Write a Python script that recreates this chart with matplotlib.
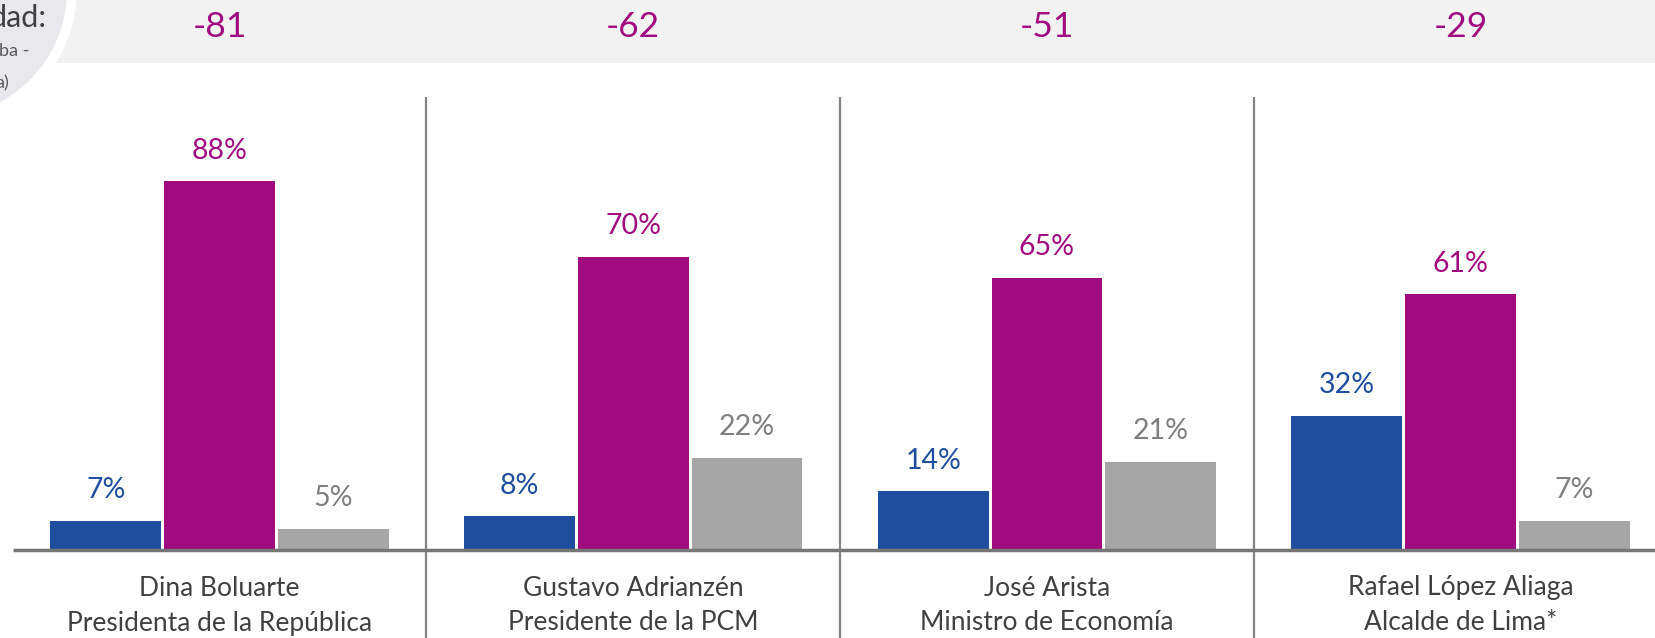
import numpy as np
import matplotlib.pyplot as plt
from matplotlib.patches import Rectangle, Circle
from matplotlib.transforms import blended_transform_factory

plt.rcParams['font.family'] = ['Lato', 'DejaVu Sans']

# Data
personas = ["Dina Boluarte", "Gustavo Adrianzén", "José Arista", "Rafael López Aliaga"]
cargos = ["Presidenta de la República", "Presidente de la PCM", "Ministro de Economía", "Alcalde de Lima*"]
aprueba = [7, 8, 14, 32]
desaprueba = [88, 70, 65, 61]
no_precisa = [5, 22, 21, 7]
saldo = ["-81", "-62", "-51", "-29"]

c_blue = "#1f4e9e"
c_mag = "#a00b7f"
c_gray = "#a6a6a6"

W, H = 1655, 638
fig = plt.figure(figsize=(W / 100, H / 100), dpi=100)

# pixel helpers (full-size picture coordinates)
base_px = 550
px_per_pct = 4.19
left_px = 12.7
group_px = 413.7
x_right = (W - left_px) / group_px - 0.5

ax = fig.add_axes([left_px / W, 0, 1 - left_px / W, (H - 97) / H])
ax.set_xlim(-0.5, x_right)
ax.set_ylim(-(H - base_px) / px_per_pct, (base_px - 97) / px_per_pct)
ax.axis("off")

x = np.arange(len(personas))
bw = 0.268
off = 0.275
series = [(aprueba, c_blue, c_blue, -off), (desaprueba, c_mag, c_mag, 0),
          (no_precisa, c_gray, "#7f7f7f", off)]
for vals, col, tcol, dx in series:
    ax.bar(x + dx, vals, width=bw, color=col, zorder=2)
    for xi, v in zip(x, vals):
        ax.annotate(f"{v}%", (xi + dx, v), xytext=(0, 22), textcoords="offset points",
                    ha="center", va="center", fontsize=20.5, color=tcol)

# baseline and separators
ax.plot([-0.5, x_right], [0, 0], color="#767676", lw=2.5, zorder=3, solid_capstyle="butt")
ax.vlines(x[:-1] + 0.5, -30, 200, color="#858585", lw=1.6, zorder=1)

for xi, p, c in zip(x, personas, cargos):
    ax.text(xi, -38 / px_per_pct, p, ha="center", va="center", fontsize=19, color="#404040")
    ax.text(xi, -73 / px_per_pct, c, ha="center", va="center", fontsize=19, color="#404040")

# top band with differences
fig.patches.append(Rectangle((0, 1 - 63 / H), 1, 63 / H, transform=fig.transFigure,
                             facecolor="#f2f2f2", edgecolor="none", zorder=0))
trans = blended_transform_factory(ax.transData, fig.transFigure)
for xi, s in zip(x, saldo):
    fig.text(xi, 1 - 27 / H, s, transform=trans, ha="center", va="center",
             fontsize=25.5, color=c_mag)

# partial circle at the top left (inches from the bottom-left corner)
circ = Circle((-0.60, (H + 10) / 100), 1.32, transform=fig.dpi_scale_trans,
              facecolor="#e9e9ed", edgecolor="white", lw=7, zorder=1)
fig.patches.append(circ)
fig.text(47 / W, 1 - 18 / H, "dad:", ha="right", va="center", fontsize=22, color="#404040", zorder=3)
fig.text(29 / W, 1 - 51 / H, "ba -", ha="right", va="center", fontsize=13, color="#595959", zorder=3)
fig.text(9 / W, 1 - 83 / H, "a)", ha="right", va="center", fontsize=13, color="#595959", zorder=3)

fig.savefig("out.png", dpi=100)
